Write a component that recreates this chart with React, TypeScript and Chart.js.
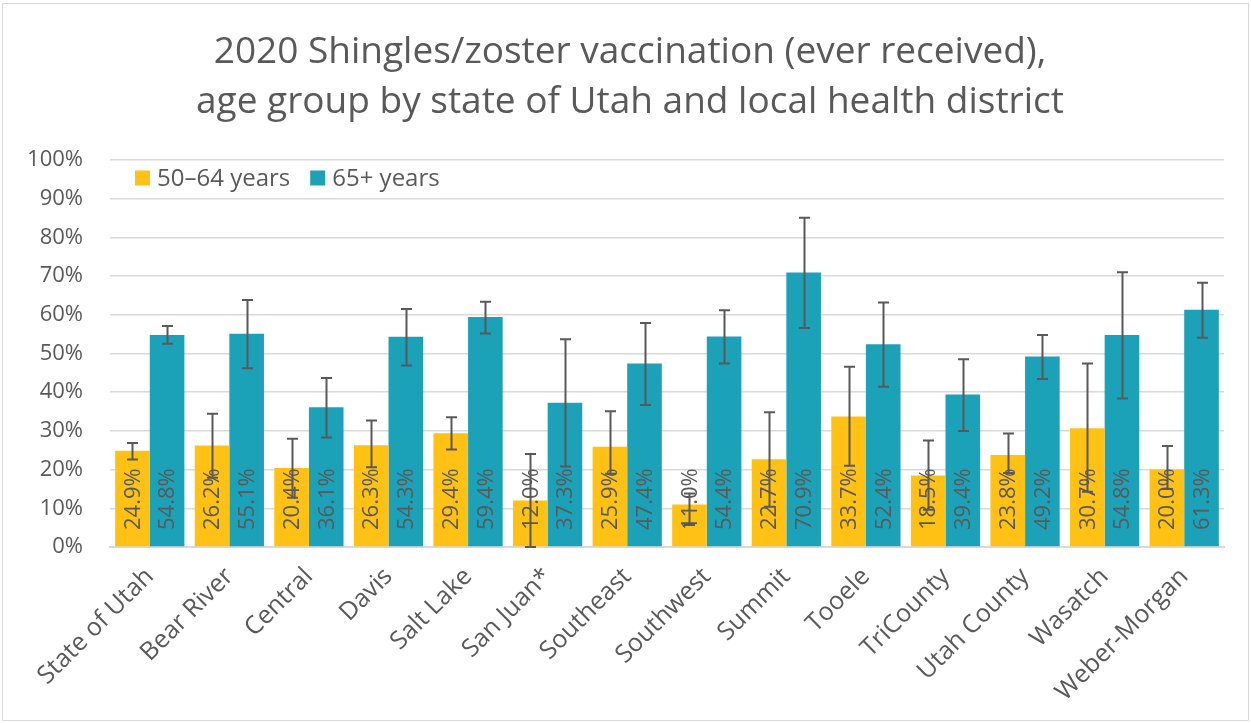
import React, { useEffect, useRef } from "react";
import { Chart, registerables } from "chart.js";

Chart.register(...registerables);

const categories = [
  "State of Utah", "Bear River", "Central", "Davis", "Salt Lake", "San Juan*", "Southeast",
  "Southwest", "Summit", "Tooele", "TriCounty", "Utah County", "Wasatch", "Weber-Morgan",
];
const seriesNames = ["50–64 years", "65+ years"];
const values5064 = [24.9, 26.2, 20.4, 26.3, 29.4, 12.0, 25.9, 11.0, 22.7, 33.7, 18.5, 23.8, 30.7, 20.0];
const upper5064 = [26.9, 34.4, 28.0, 32.7, 33.5, 24.0, 35.1, 13.8, 34.8, 46.6, 27.5, 29.3, 47.4, 26.1];
const lower5064 = [22.6, 17.9, 12.7, 20.6, 25.2, 0.0, 18.9, 5.7, 10.4, 21.0, 9.6, 19.1, 14.3, 15.0];
const values65 = [54.8, 55.1, 36.1, 54.3, 59.4, 37.3, 47.4, 54.4, 70.9, 52.4, 39.4, 49.2, 54.8, 61.3];
const upper65 = [57.1, 63.8, 43.7, 61.5, 63.4, 53.7, 57.9, 61.2, 85.1, 63.2, 48.5, 54.8, 71.0, 68.3];
const lower65 = [52.5, 46.2, 28.3, 46.9, 55.2, 20.8, 36.7, 47.4, 56.6, 41.4, 30.0, 43.4, 38.4, 54.1];
const yTicks = [0, 10, 20, 30, 40, 50, 60, 70, 80, 90, 100];
const titleLines = [
  "2020 Shingles/zoster vaccination (ever received),",
  "age group by state of Utah and local health district",
];

const YELLOW = "#FFC114";
const TEAL = "#1CA2B8";
const TEXT = "#595959";
const GRID = "#D9D9D9";
const FONT = "'Open Sans', 'Noto Sans', sans-serif";

const lowers = [lower5064, lower65];
const uppers = [upper5064, upper65];

const overlayPlugin = {
  id: "overlay",
  afterDatasetsDraw(chart: any) {
    const ctx = chart.ctx;
    const yScale = chart.scales.y;
    // data labels
    chart.data.datasets.forEach((ds: any, di: number) => {
      const meta = chart.getDatasetMeta(di);
      meta.data.forEach((bar: any, i: number) => {
        const v = ds.data[i];
        ctx.save();
        ctx.translate(bar.x, yScale.getPixelForValue(0) - 17);
        ctx.rotate(-Math.PI / 2);
        ctx.font = `22px ${FONT}`;
        ctx.fillStyle = TEXT;
        ctx.textAlign = "left";
        ctx.textBaseline = "middle";
        ctx.fillText(v.toFixed(1) + "%", 0, 1);
        ctx.restore();
      });
    });
    // error bars
    chart.data.datasets.forEach((ds: any, di: number) => {
      const meta = chart.getDatasetMeta(di);
      meta.data.forEach((bar: any, i: number) => {
        const yl = yScale.getPixelForValue(lowers[di][i]);
        const yu = yScale.getPixelForValue(uppers[di][i]);
        const x = Math.round(bar.x) + 0.5;
        ctx.save();
        ctx.strokeStyle = TEXT;
        ctx.lineWidth = 2;
        ctx.beginPath();
        ctx.moveTo(x, yl);
        ctx.lineTo(x, yu);
        ctx.moveTo(x - 5.5, yu);
        ctx.lineTo(x + 5.5, yu);
        ctx.moveTo(x - 5.5, yl);
        ctx.lineTo(x + 5.5, yl);
        ctx.stroke();
        ctx.restore();
      });
    });
  },
  afterDraw(chart: any) {
    const ctx = chart.ctx;
    const area = chart.chartArea;
    // title
    ctx.save();
    ctx.font = `37px ${FONT}`;
    ctx.fillStyle = TEXT;
    ctx.textAlign = "center";
    ctx.textBaseline = "middle";
    titleLines.forEach((line, i) => ctx.fillText(line, 630, 52 + i * 50));
    ctx.restore();
    // legend
    let x = area.left + 25;
    const y = area.top + 18;
    ctx.save();
    ctx.font = `24px ${FONT}`;
    ctx.textBaseline = "middle";
    ctx.textAlign = "left";
    chart.data.datasets.forEach((ds: any) => {
      ctx.fillStyle = ds.backgroundColor;
      ctx.fillRect(x, y - 7.5, 15, 15);
      x += 22;
      ctx.fillStyle = TEXT;
      ctx.fillText(ds.label, x, y + 1);
      x += ctx.measureText(ds.label).width + 20;
    });
    ctx.restore();
  },
};

export default function App() {
  const ref = useRef<HTMLCanvasElement | null>(null);
  useEffect(() => {
    if (!ref.current) return;
    const chart = new Chart(ref.current, {
      type: "bar",
      data: {
        labels: categories,
        datasets: [
          { label: seriesNames[0], data: values5064, backgroundColor: YELLOW },
          { label: seriesNames[1], data: values65, backgroundColor: TEAL },
        ],
      },
      options: {
        animation: false,
        responsive: false,
        maintainAspectRatio: false,
        layout: { padding: { left: 0, right: 27, top: 160, bottom: 0 } },
        datasets: { bar: { categoryPercentage: 0.87, barPercentage: 1.0 } },
        plugins: {
          legend: { display: false },
          tooltip: { enabled: false },
          title: { display: false },
        },
        scales: {
          x: {
            grid: { display: false, drawTicks: false },
            border: { color: GRID, width: 2 },
            ticks: {
              color: TEXT,
              font: { family: FONT, size: 25 },
              minRotation: 45,
              maxRotation: 45,
              padding: 15,
              autoSkip: false,
            },
            afterFit: (axis: any) => { axis.height = 176; },
          },
          y: {
            min: 0,
            max: 100,
            afterBuildTicks: (axis: any) => { axis.ticks = yTicks.map((v) => ({ value: v })); },
            grid: { color: GRID, lineWidth: 1.5, drawTicks: false },
            border: { display: false },
            ticks: {
              color: TEXT,
              font: { family: FONT, size: 22 },
              padding: 27,
              callback: (v: any) => v + "%",
            },
            afterFit: (axis: any) => { axis.width = 110; },
          },
        },
      },
      plugins: [overlayPlugin],
    });
    return () => chart.destroy();
  }, []);
  return (
    <div style={{ position: "fixed", left: 0, top: 0, width: 1251, height: 723, background: "#fff" }}>
      <div style={{ position: "absolute", left: 2, top: 3, width: 1245, height: 716, border: "1px solid #D9D9D9" }} />
      <canvas ref={ref} width={1251} height={723} style={{ position: "absolute", left: 0, top: 0 }} />
    </div>
  );
}
